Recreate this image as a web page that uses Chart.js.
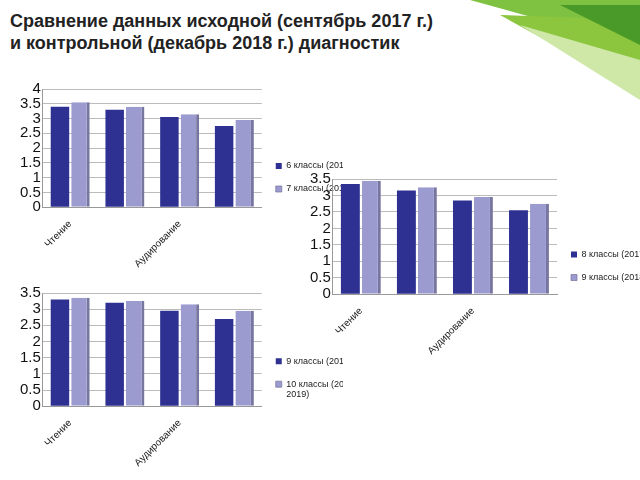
<!DOCTYPE html><html><head><meta charset="utf-8">
<script src="https://cdn.jsdelivr.net/npm/chart.js@4"></script>
<style>body{margin:0;width:640px;height:480px;background:#fff;position:relative;overflow:hidden;font-family:"Liberation Sans",Arial,sans-serif}
#t{position:absolute;left:10px;top:10px;font-weight:bold;font-size:18px;line-height:22px;color:#222}
.c{position:absolute}</style></head><body>
<svg style="position:absolute;left:0;top:0" width="640" height="110">
<polygon points="470,0 640,0 640,25 560,25" fill="#7fc241"/>
<polygon points="500,15 640,20 640,95 600,70" fill="#8cc63f"/>
<polygon points="520,25 640,60 640,100" fill="#cfe8a8"/>
<polygon points="560,5 640,5 640,45" fill="#4a9a2a"/>
</svg>
<div id="t">Сравнение данных исходной (сентябрь 2017 г.)<br>и контрольной (декабрь 2018 г.) диагностик</div>
<div class="c" style="left:18px;top:78px;width:325px;height:195px"><canvas id="c1"></canvas></div>
<div class="c" style="left:308px;top:168px;width:332px;height:192px"><canvas id="c2"></canvas></div>
<div class="c" style="left:18px;top:282px;width:325px;height:190px"><canvas id="c3"></canvas></div>
<script>
const categories=["Чтение","Письмо","Аудирование","Говорение"];
const c1a=[3.4,3.3,3.05,2.75], c1b=[3.55,3.4,3.15,2.95];
const c2a=[3.35,3.15,2.85,2.55], c2b=[3.45,3.25,2.95,2.75];
const c3a=[3.3,3.2,2.95,2.7], c3b=[3.35,3.25,3.15,2.95];
const names1=["6 классы (2017-2018)","7 классы (2018 - 2019)"];
const names2=["8 классы (2017-2018)","9 классы (2018 - 2019)"];
const names3=["9 классы (2017-2018)",["10 классы (2018 -","2019)"]];
function mk(id,a,b,n,max){
 new Chart(document.getElementById(id),{type:'bar',data:{labels:categories,datasets:[
  {label:n[0],data:a,backgroundColor:'#2e3192',borderColor:'#1e2070',borderWidth:0,barPercentage:0.9,categoryPercentage:0.75},
  {label:n[1],data:b,backgroundColor:'#9c9bd0',borderColor:'#77769f',borderWidth:{right:3},barPercentage:0.9,categoryPercentage:0.75}]},
 options:{responsive:true,maintainAspectRatio:false,animation:false,
  layout:{padding:{top:4}},
  plugins:{legend:{position:'right',align:'center',labels:{boxWidth:6,boxHeight:6,font:{size:9},color:'#222',padding:14}},tooltip:{enabled:false}},
  scales:{y:{min:0,max:max,ticks:{stepSize:0.5,autoSkip:false,font:{size:15},color:'#111',padding:2,callback:v=>String(v)},grid:{color:'#bbb',drawTicks:false},border:{color:'#999'}},
   x:{grid:{display:false},border:{color:'#999'},ticks:{autoSkip:false,maxRotation:45,minRotation:45,font:{size:10},color:'#222',callback:function(v,i){return i%2===0?this.getLabelForValue(v):'';}}}}}});
}
Chart.defaults.font.family='"Liberation Sans",Arial,sans-serif';
mk('c1',c1a,c1b,names1,4);
mk('c2',c2a,c2b,names2,3.5);
mk('c3',c3a,c3b,names3,3.5);
</script></body></html>
